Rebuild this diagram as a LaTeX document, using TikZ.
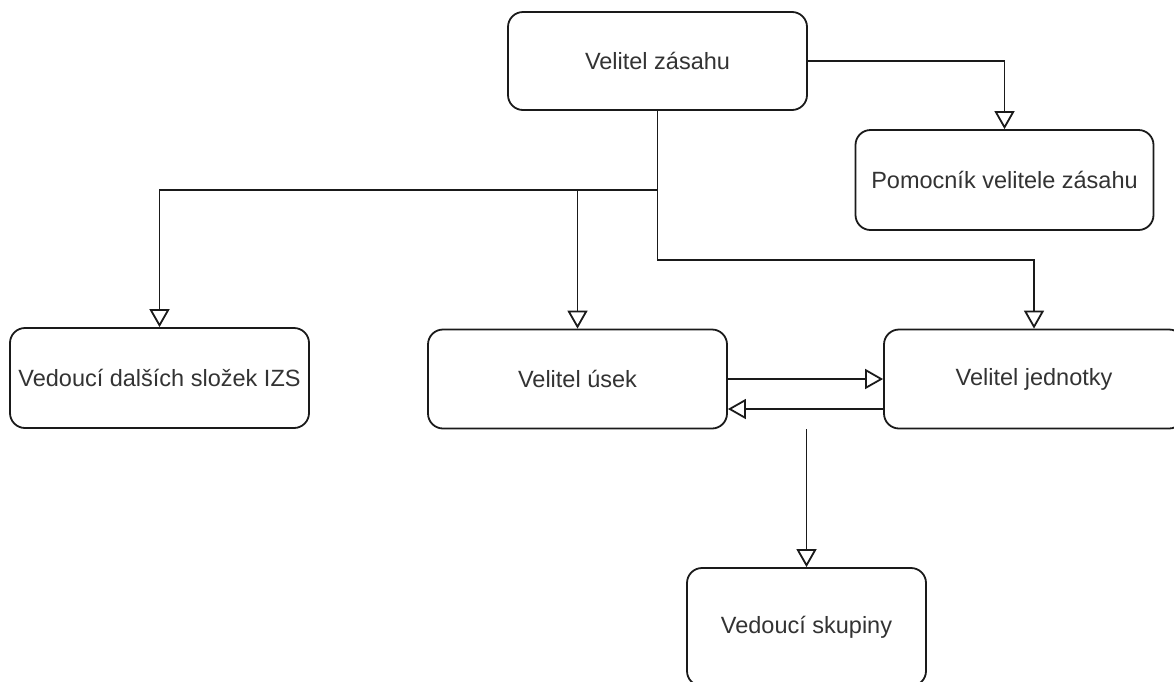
\documentclass[tikz,border=0pt]{standalone}
\usepackage{fontspec}
\setmainfont{Liberation Sans}
\usetikzlibrary{arrows.meta}
\definecolor{txt}{HTML}{333333}
\definecolor{ln}{HTML}{1A1A1A}
\begin{document}
\begin{tikzpicture}[x=1pt,y=-1pt,
  box/.style={draw=ln, line width=1.8pt, rounded corners=15pt, fill=white,
    inner sep=0pt, text=txt, font=\fontsize{23.5}{28}\selectfont},
  conn/.style={draw=ln, line width=1.8pt},
  arr/.style={conn, -{Triangle[open, length=18pt, width=20pt, line width=1.8pt]}}]
\useasboundingbox (0,0) rectangle (1174,681);
\fill[white] (0,0) rectangle (1174,681);
\clip (0,0) rectangle (1174,681);
\node[box, minimum width=299pt, minimum height=98pt] (vz) at (657.5,61) {Velitel zásahu};
\node[box, minimum width=298pt, minimum height=100pt] (pom) at (1004.5,180) {Pomocník velitele zásahu};
\node[box, minimum width=299pt, minimum height=100pt] (ved) at (159.5,378) {Vedoucí dalších složek IZS};
\node[box, minimum width=299pt, minimum height=99pt] (vu) at (577.5,379) {Velitel úsek};
\node[box, minimum width=300pt, minimum height=99pt] (vj) at (1034,379) {Velitel jednotky};
\node[box, minimum width=239pt, minimum height=118pt] (vs) at (806.5,627) {Vedoucí skupiny};
\coordinate (j1) at (657.5,190);
\coordinate (j2) at (657.5,260);
\coordinate (s) at (806.5,429);
\draw[arr] (vz.east) -| (pom.north);
\draw[arr] (vz.south) -- (j2) -| (vj.north);
\draw[arr] (j1) -| (ved.north);
\draw[arr] (vu.north |- j1) -- (vu.north);
\draw[arr] (vu.east) -- (vj.west);
\draw[arr] (vj.west |- 0,409) -- (vu.east |- 0,409);
\draw[arr] (s) -- (vs.north);
\end{tikzpicture}
\end{document}
